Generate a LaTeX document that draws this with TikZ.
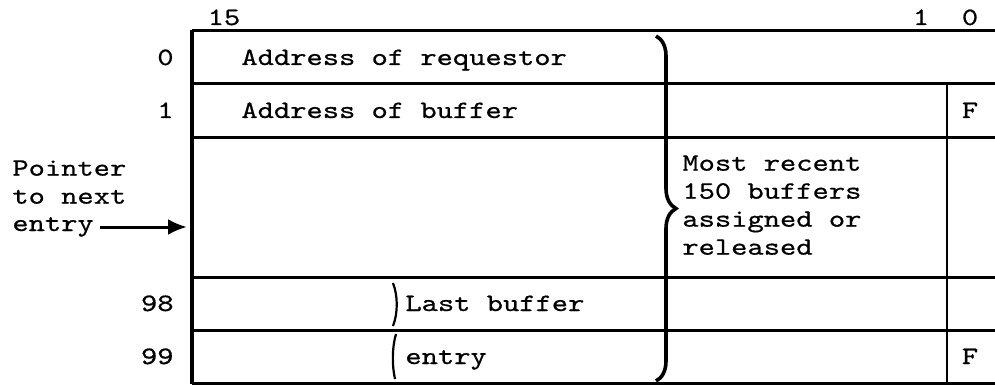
\documentclass[tikz,border=0pt]{standalone}
\usepackage{fontspec}
\usepackage{tikz}
\usetikzlibrary{arrows.meta, decorations.pathreplacing}
\newfontfamily\tblfont[FakeStretch=1.24, FakeBold=0.6]{lmmono10-regular.otf}
\tikzstyle{txt} = [inner sep=0pt, font={\tblfont\fontsize{12.5}{14}\selectfont}]
\tikzstyle{tblrule} = [line width=1.5pt]
\tikzstyle{arrow} = [line width=1.5pt, -{Latex[length=9.5pt,width=8pt]}]
\tikzstyle{bigbrace} = [decorate, decoration={brace, amplitude=10pt}, line width=1.8pt]
\begin{document}
\begin{tikzpicture}[x=0.5pt, y=-0.5pt]
\useasboundingbox (0,0) rectangle (995,385);

% Table
\draw[tblrule] (192,31) -- (995,31);
\draw[tblrule] (192,383) -- (995,383);
\foreach \y in {84,137,277,330}
    \draw[tblrule] (192,\y) -- (995,\y);
\draw[line width=2pt] (192,30) -- (192,384);
\draw[line width=1.2pt] (947,84) -- (947,383);

% Nodes
\node (bit15) [txt, anchor=base] at (224,25) {15};
\node (bit1) [txt, anchor=base] at (921,25) {1};
\node (bit0) [txt, anchor=base] at (970,25) {0};

\node (word0) [txt, anchor=base east] at (174,65) {0};
\node (word1) [txt, anchor=base east] at (174,118) {1};
\node (word98) [txt, anchor=base east] at (174,311) {98};
\node (word99) [txt, anchor=base east] at (174,364) {99};

\node (requestor) [txt, anchor=base west] at (241,65) {Address of requestor};
\node (buffer) [txt, anchor=base west] at (241,118) {Address of buffer};
\node (flag1) [txt, anchor=base] at (970,118) {F};
\node (flag99) [txt, anchor=base] at (970,364) {F};

\node (recent) [txt, align=left, anchor=north west] at (682,155) {
    Most recent\\
    150 buffers\\
    assigned or\\
    released
};

\node (lastbuf) [txt, anchor=base west] at (405,311) {Last buffer};
\node (lastentry) [txt, anchor=base west] at (405,364) {entry};

\node (pointer) [txt, align=left, anchor=north west] at (12,160) {
    Pointer\\
    to next
};
\node (ptrentry) [txt, anchor=base west] at (12,231) {entry};
\coordinate (tblin) at (187,227);

% Braces
\draw[bigbrace] (656,36) -- (656,381);
\draw[line width=1.1pt] (393,283) .. controls (398,296) and (398,313) .. (393,326);
\draw[line width=1.1pt] (396,334) .. controls (392,347) and (392,366) .. (395,379);

% Arrows
\draw [arrow] ([shift={(3pt,2pt)}]ptrentry.base east) -- (tblin);

\end{tikzpicture}
\end{document}
